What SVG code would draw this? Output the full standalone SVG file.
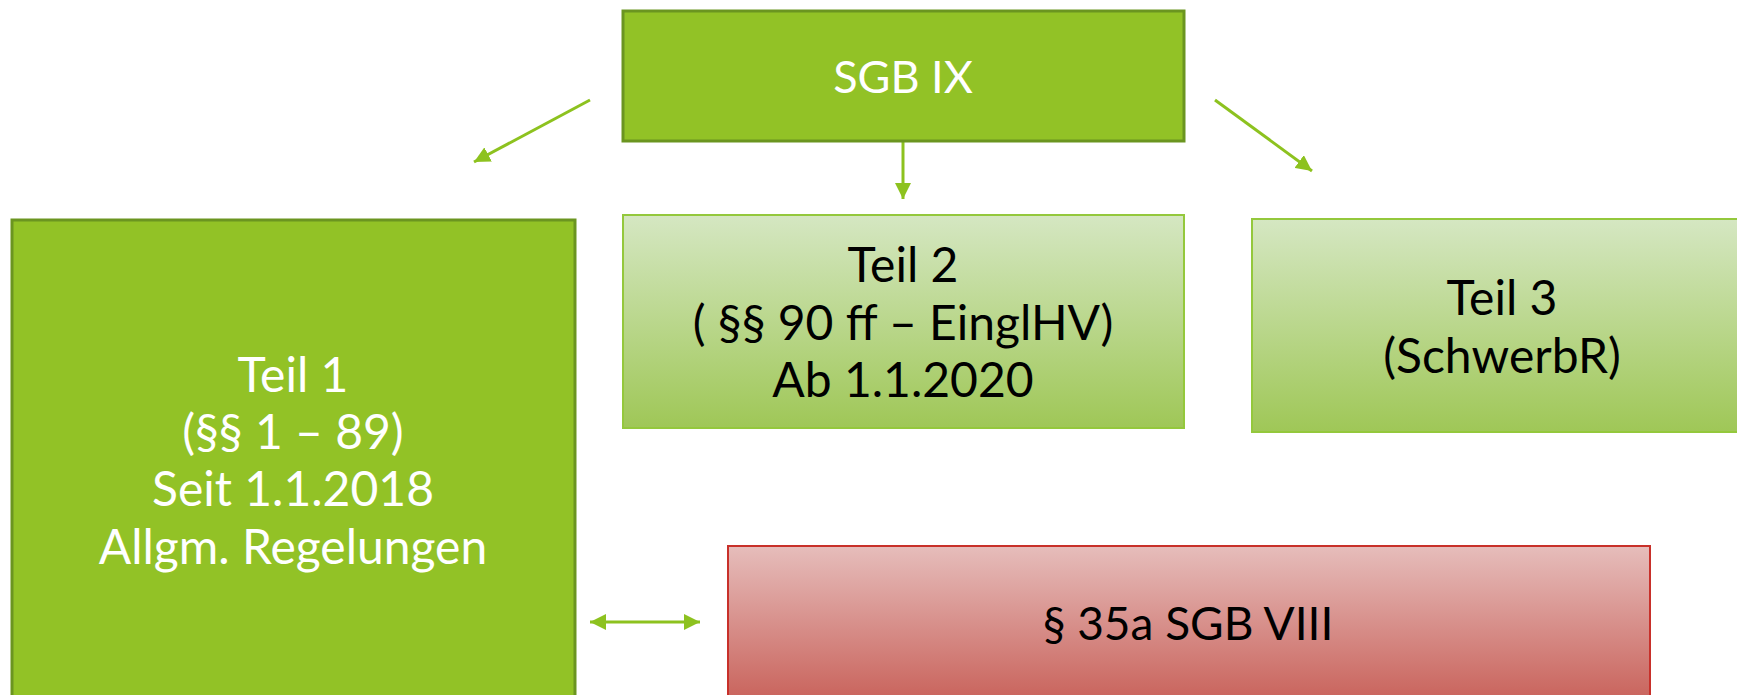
<svg xmlns="http://www.w3.org/2000/svg" width="1737" height="695" viewBox="0 0 1737 695">
<defs>
<linearGradient id="gLight" x1="0" y1="0" x2="0" y2="1">
<stop offset="0" stop-color="#d5e7c2"/>
<stop offset="1" stop-color="#9fc757"/>
</linearGradient>
<linearGradient id="gRed" x1="0" y1="0" x2="0" y2="1">
<stop offset="0" stop-color="#e6bdbb"/>
<stop offset="1" stop-color="#c65a52"/>
</linearGradient>
<marker id="ah" markerUnits="userSpaceOnUse" markerWidth="18" markerHeight="16" refX="16" refY="8" orient="auto-start-reverse">
<path d="M0,0 L16,8 L0,16 Z" fill="#8dc21f"/>
</marker>
</defs>
<style>
.dark{fill:#92c226;stroke:#6b9520;stroke-width:3}
.light{fill:url(#gLight);stroke:#94c83c;stroke-width:2}
.red{fill:url(#gRed);stroke:#c8302a;stroke-width:2}
text{font-family:Lato,"Open Sans","Liberation Sans",sans-serif;font-size:48px;text-anchor:middle}
.w{fill:#ffffff}
.b{fill:#000000}
.con{stroke:#8dc21f;stroke-width:3;fill:none}
</style>
<g id="connectors">
<line class="con" x1="590" y1="100" x2="474" y2="162" marker-end="url(#ah)"/>
<line class="con" x1="903" y1="141" x2="903" y2="199" marker-end="url(#ah)"/>
<line class="con" x1="1215" y1="100" x2="1312" y2="171" marker-end="url(#ah)"/>
<line class="con" x1="590" y1="622" x2="700" y2="622" marker-start="url(#ah)" marker-end="url(#ah)"/>
</g>
<g id="sgb9">
<rect class="dark" x="623" y="11" width="561" height="130"/>
<text class="w" x="903" y="93" style="font-size:45px">SGB IX</text>
</g>
<g id="teil1">
<rect class="dark" x="12" y="220" width="563" height="495"/>
<text class="w" x="293" y="392">Teil 1</text>
<text class="w" x="293" y="449">(§§ 1 – 89)</text>
<text class="w" x="293" y="506">Seit 1.1.2018</text>
<text class="w" x="293" y="564">Allgm. Regelungen</text>
</g>
<g id="teil2">
<rect class="light" x="623" y="215" width="561" height="213"/>
<text class="b" x="903" y="282">Teil 2</text>
<text class="b" x="903" y="340">( §§ 90 ff – EinglHV)</text>
<text class="b" x="903" y="397">Ab 1.1.2020</text>
</g>
<g id="teil3">
<rect class="light" x="1252" y="219" width="510" height="213"/>
<text class="b" x="1502" y="315">Teil 3</text>
<text class="b" x="1502" y="373">(SchwerbR)</text>
</g>
<g id="sgb8">
<rect class="red" x="728" y="546" width="922" height="170"/>
<text class="b" x="1188" y="640" style="font-size:46px">§ 35a SGB VIII</text>
</g>
</svg>
